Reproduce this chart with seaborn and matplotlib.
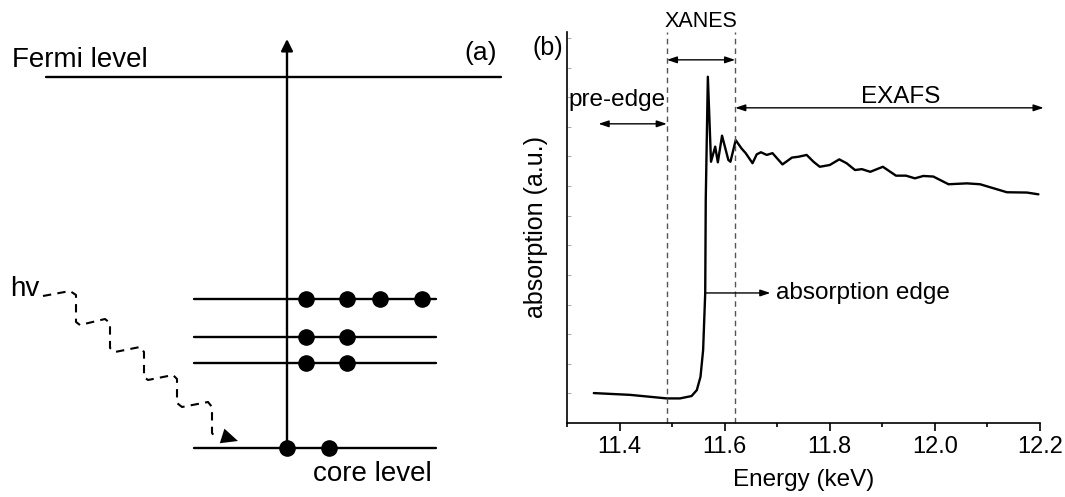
import matplotlib
matplotlib.use("Agg")
import matplotlib.pyplot as plt
import seaborn as sns
import pandas as pd

sns.set_style("ticks")
plt.rcParams['font.family'] = ['Liberation Sans', 'DejaVu Sans']
plt.rcParams['text.color'] = 'black'
plt.rcParams['axes.labelcolor'] = 'black'
plt.rcParams['xtick.color'] = 'black'
plt.rcParams['ytick.color'] = 'black'

# ---------------- data (right panel) ----------------
energy = [11.351, 11.420, 11.490, 11.515, 11.537, 11.547, 11.554, 11.559, 11.563, 11.564,
          11.568, 11.574, 11.582, 11.587, 11.595, 11.607, 11.611, 11.621, 11.632, 11.640,
          11.653, 11.661, 11.669, 11.680, 11.691, 11.710, 11.728, 11.741, 11.756, 11.769,
          11.781, 11.800, 11.818, 11.832, 11.848, 11.861, 11.877, 11.901, 11.926, 11.945,
          11.962, 11.978, 11.997, 12.026, 12.061, 12.086, 12.137, 12.175, 12.197]
absorption = [0.101, 0.095, 0.083, 0.083, 0.091, 0.111, 0.156, 0.246, 0.439, 0.753,
              1.169, 0.882, 0.933, 0.880, 0.970, 0.888, 0.882, 0.955, 0.927, 0.911,
              0.877, 0.907, 0.914, 0.905, 0.911, 0.873, 0.896, 0.899, 0.905, 0.882,
              0.865, 0.871, 0.890, 0.877, 0.854, 0.857, 0.848, 0.865, 0.835, 0.835,
              0.826, 0.834, 0.832, 0.806, 0.809, 0.806, 0.779, 0.778, 0.772]
xticks = [11.4, 11.6, 11.8, 12.0, 12.2]
xtick_labels = ["11.4", "11.6", "11.8", "12.0", "12.2"]
region_bounds = [11.49, 11.62]   # XANES limits
edge_y = 0.439

# ---------------- data (left panel schematic, pixel units) ----------------
level_y = [299, 337, 363]
core_y = 448
level_x = [194, 436]
fermi_y = 77
fermi_x = [46, 501]
axis_x = 287
dots_x = [[306, 347, 380, 422], [306, 347], [306, 347]]
core_dots_x = [287, 329]
wave_x = [43, 70, 76, 76, 80, 105, 110, 110, 115, 140, 144, 144, 148, 173, 177, 177, 182, 208, 212, 212, 215]
wave_y = [296, 291, 295, 322, 325, 319, 323, 348, 352, 347, 352, 377, 380, 375, 379, 403, 407, 402, 407, 433, 437]

fs_left = 20
fs = 17.5
fig = plt.figure(figsize=(10.65, 4.97), dpi=100)

# ---------------- left panel ----------------
axl = fig.add_axes([0, 0, 520 / 1065, 1])
axl.set_xlim(0, 520)
axl.set_ylim(497, 0)
axl.axis('off')
lw = 1.7
axl.plot(fermi_x, [fermi_y, fermi_y], color='black', lw=lw)
for yv in level_y + [core_y]:
    axl.plot(level_x, [yv, yv], color='black', lw=lw)
axl.annotate('', xy=(axis_x, 39), xytext=(axis_x, core_y),
             arrowprops=dict(arrowstyle='-|>,head_length=0.7,head_width=0.35', color='black', lw=lw,
                             shrinkA=0, shrinkB=0))
for yv, xs in zip(level_y, dots_x):
    axl.scatter(xs, [yv] * len(xs), s=120, color='black', zorder=5)
axl.scatter(core_dots_x, [core_y] * len(core_dots_x), s=120, color='black', zorder=5)
axl.plot(wave_x, wave_y, color='black', lw=1.5, ls=(0, (4, 3)))
axl.annotate('', xy=(238, 441), xytext=(216, 434),
             arrowprops=dict(arrowstyle='-|>,head_length=1.2,head_width=0.55', color='black', lw=0,
                             shrinkA=0, shrinkB=0))
axl.text(12, 60, 'Fermi level', fontsize=fs_left, ha='left', va='center')
axl.text(497, 53, '(a)', fontsize=19, ha='right', va='center')
axl.text(10, 289, 'hv', fontsize=fs_left, ha='left', va='center')
axl.text(313, 474, 'core level', fontsize=fs_left, ha='left', va='center')

# ---------------- right panel ----------------
ax = fig.add_axes([567 / 1065, 74 / 497, (1040 - 567) / 1065, (423 - 32) / 497])
df = pd.DataFrame({'Energy': energy, 'Absorption': absorption})
sns.lineplot(data=df, x='Energy', y='Absorption', ax=ax, color='black', lw=1.7, sort=False)
ax.set_xlim(11.3, 12.2)
ax.set_ylim(0, 1.32)
ax.set_xticks(xticks)
ax.set_xticklabels(xtick_labels, fontsize=17)
ax.set_xticks([11.3, 11.5, 11.7, 11.9, 12.1], minor=True)
ax.set_yticks([i * 0.1 for i in range(1, 14)])
ax.set_yticklabels([])
ax.tick_params(axis='x', which='major', direction='out', length=6, width=1.2)
ax.tick_params(axis='x', which='minor', direction='out', length=3, width=1.2)
ax.tick_params(axis='y', direction='in', length=3, width=0.6, colors='#999999')
for s in ['top', 'right']:
    ax.spines[s].set_visible(False)
for s in ['left', 'bottom']:
    ax.spines[s].set_linewidth(1.2)
    ax.spines[s].set_color('black')
ax.set_xlabel('Energy (keV)', fontsize=fs, labelpad=8)
ax.set_ylabel('absorption (a.u.)', fontsize=18, labelpad=10)

for xb in region_bounds:
    ax.plot([xb, xb], [0, 1.32], color='#555555', lw=1.0, ls=(0, (4, 3)), clip_on=False)

arrow_kw = dict(arrowstyle='<|-|>,head_length=0.6,head_width=0.2', color='black', lw=1.0,
                shrinkA=0, shrinkB=0)
ax.annotate('', xy=(region_bounds[0], 1.226), xytext=(region_bounds[1], 1.226), arrowprops=arrow_kw,
            annotation_clip=False)
ax.annotate('', xy=(11.36, 1.010), xytext=(region_bounds[0], 1.010), arrowprops=arrow_kw,
            annotation_clip=False)
ax.annotate('', xy=(region_bounds[1], 1.064), xytext=(12.207, 1.064), arrowprops=arrow_kw,
            annotation_clip=False)
ax.annotate('', xy=(11.687, edge_y), xytext=(11.565, edge_y),
            arrowprops=dict(arrowstyle='-|>,head_length=0.6,head_width=0.2', color='black', lw=1.0,
                            shrinkA=0, shrinkB=0))
ax.text(11.555, 1.355, 'XANES', fontsize=15.5, ha='center', va='center', clip_on=False)
ax.text(11.395, 1.091, 'pre-edge', fontsize=fs, ha='center', va='center')
ax.text(11.934, 1.101, 'EXAFS', fontsize=fs, ha='center', va='center')
ax.text(11.697, edge_y, 'absorption edge', fontsize=fs, ha='left', va='center')
fig.text(548 / 1065, 1 - 48 / 497, '(b)', fontsize=18, ha='center', va='center')

fig.savefig('out.png', dpi=100)
